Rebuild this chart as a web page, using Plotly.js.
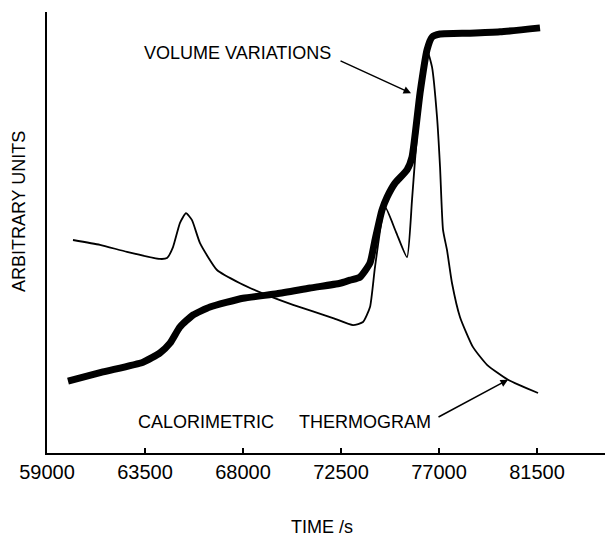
<!DOCTYPE html>
<html>
<head>
<meta charset="utf-8">
<script src="https://cdn.plot.ly/plotly-3.0.1.min.js"></script>
<style>html,body{margin:0;padding:0;background:#fff;}#chart{width:605px;height:539px;}</style>
</head>
<body>
<div id="chart"></div>
<script>
// Volume variations (thick curve)
const volumeTime = [59964, 61571, 63408, 64189, 64648, 65107, 65705, 66485, 68000, 69562, 71077, 72455, 72913, 73373, 73832, 74062, 74383, 74613, 74980, 75531, 75761, 76128, 76450, 76680, 77047, 78425, 79802, 81638];
const volumeValue = [16.3, 18.4, 20.6, 22.7, 24.9, 28.6, 31.3, 33.1, 35.1, 36.1, 37.4, 38.5, 39.2, 39.9, 43.1, 48.3, 55.1, 58.0, 61.2, 64.2, 67.1, 81.6, 91.4, 94.3, 95.0, 95.2, 95.5, 96.4];

// Calorimetric thermogram (thin curve)
const thermoTime = [60194, 61434, 62673, 64189, 64511, 64786, 65107, 65383, 65658, 66026, 66806, 67863, 69103, 70297, 72134, 73052, 73511, 73832, 74062, 74521, 75026, 75531, 75761, 75898, 76220, 76450, 76680, 76909, 77047, 77184, 77368, 77598, 77966, 78562, 79205, 80169, 81547];
const thermoValue = [48.3, 47.2, 45.6, 44.0, 44.2, 46.7, 52.2, 54.4, 52.8, 47.6, 41.5, 38.5, 35.8, 33.6, 30.6, 29.0, 29.7, 33.1, 42.2, 55.8, 50.1, 44.4, 57.4, 66.4, 83.9, 91.4, 87.5, 76.2, 64.9, 50.6, 46.0, 38.5, 30.8, 24.0, 20.0, 16.6, 13.6];

const tickValues = [59000, 63500, 68000, 72500, 77000, 81500];
const tickLabels = ['59000', '63500', '68000', '72500', '77000', '81500'];

const font = 'Liberation Sans, Arial, sans-serif';

const traces = [
  {x: thermoTime, y: thermoValue, type: 'scatter', mode: 'lines',
   line: {color: '#000', width: 1.8, shape: 'spline', smoothing: 0.5}, hoverinfo: 'skip'},
  {x: volumeTime, y: volumeValue, type: 'scatter', mode: 'lines',
   line: {color: '#000', width: 7, shape: 'spline', smoothing: 0.5}, hoverinfo: 'skip'}
];

const layout = {
  width: 605, height: 539,
  margin: {l: 47, r: 0, t: 12, b: 86},
  paper_bgcolor: '#fff', plot_bgcolor: '#fff',
  showlegend: false,
  font: {family: font, color: '#000'},
  xaxis: {
    range: [59000, 84622], showgrid: false, zeroline: false,
    showline: true, linecolor: '#000', linewidth: 2,
    ticks: 'inside', ticklen: 5, tickwidth: 1.5, tickcolor: '#000',
    tickvals: tickValues, ticktext: tickLabels,
    tickfont: {family: font, size: 20, color: '#000'}
  },
  yaxis: {
    range: [0, 100], showgrid: false, zeroline: false,
    showline: true, linecolor: '#000', linewidth: 2,
    showticklabels: false, ticks: ''
  },
  annotations: [
    {x: 0.492, y: -0.168, xref: 'paper', yref: 'paper', text: 'TIME /s', showarrow: false,
     xanchor: 'center', yanchor: 'middle', borderpad: 0, font: {family: font, size: 18, color: '#000'}},
    {x: -0.050, y: 0.5465, xref: 'paper', yref: 'paper', text: 'ARBITRARY UNITS', showarrow: false,
     textangle: -90, xanchor: 'center', yanchor: 'middle', font: {family: font, size: 18, color: '#000'}},
    {x: 67725, y: 90.7, xref: 'x', yref: 'y', text: 'VOLUME VARIATIONS', showarrow: false,
     font: {family: font, size: 18, color: '#000'}},
    {x: 66301, y: 7.0, xref: 'x', yref: 'y', text: 'CALORIMETRIC', showarrow: false,
     font: {family: font, size: 18, color: '#000'}},
    {x: 73603, y: 7.0, xref: 'x', yref: 'y', text: 'THERMOGRAM', showarrow: false,
     font: {family: font, size: 18, color: '#000'}},
    {x: 75715, y: 81.6, xref: 'x', yref: 'y', text: '', showarrow: true,
     arrowhead: 2, arrowsize: 1, arrowwidth: 1.5, arrowcolor: '#000', ax: -72, ay: -33, standoff: 0},
    {x: 80169, y: 16.6, xref: 'x', yref: 'y', text: '', showarrow: true,
     arrowhead: 2, arrowsize: 1, arrowwidth: 1.5, arrowcolor: '#000', ax: -71, ay: 38, standoff: 0}
  ]
};

Plotly.newPlot('chart', traces, layout, {displayModeBar: false, staticPlot: true});
</script>
</body>
</html>
